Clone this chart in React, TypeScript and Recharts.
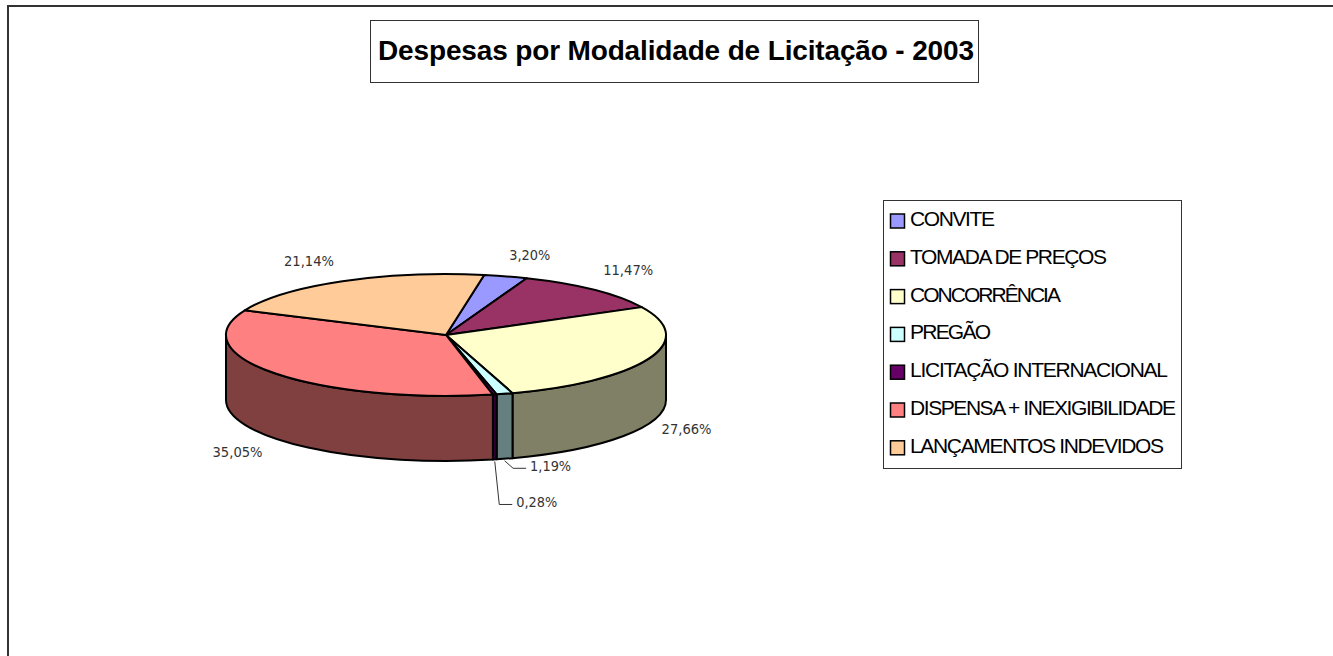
import React from "react";
import { PieChart, Pie, Legend } from "recharts";

const names = [
  "CONVITE",
  "TOMADA DE PREÇOS",
  "CONCORRÊNCIA",
  "PREGÃO",
  "LICITAÇÃO INTERNACIONAL",
  "DISPENSA + INEXIGIBILIDADE",
  "LANÇAMENTOS INDEVIDOS",
];
const values = [3.2, 11.47, 27.66, 1.19, 0.28, 35.05, 21.14];
const valueLabels = ["3,20%", "11,47%", "27,66%", "1,19%", "0,28%", "35,05%", "21,14%"];
const topColors = ["#9999FF", "#993366", "#FFFFCC", "#CCFFFF", "#660066", "#FF8080", "#FFCC99"];
const sideColors = ["#4D4D80", "#4D1A33", "#808066", "#668080", "#330033", "#804040", "#806633"];

// nudges from the rim point of each slice to the centre of its label
const labelOffsets = [
  [24, -21.5],
  [34.5, -19.5],
  [37.5, 71],
  [46, 72.5],
  [42, 108],
  [-38, 78.5],
  [-33.5, -20.5],
];
const legendWidths = [85, 197, 151, 81, 258, 266, 254];

const chartData = names.map((name, i) => ({
  name,
  value: values[i],
  fill: topColors[i],
  side: sideColors[i],
}));

const SQUASH = 61 / 220;
const DEPTH = 65;
const RAD = Math.PI / 180;

function rim(cx: number, cy: number, r: number, deg: number) {
  return {
    x: cx + r * Math.cos(deg * RAD),
    y: cy - SQUASH * r * Math.sin(deg * RAD),
  };
}

function renderSlice(props: any) {
  const { cx, cy, outerRadius: r, startAngle, endAngle, fill, payload } = props;
  const ry = r * SQUASH;
  const a = rim(cx, cy, r, startAngle);
  const b = rim(cx, cy, r, endAngle);
  const large = Math.abs(startAngle - endAngle) > 180 ? 1 : 0;
  const top = `M${cx},${cy} L${a.x},${a.y} A${r},${ry} 0 ${large} 1 ${b.x},${b.y} Z`;

  // only the front half of the cylinder wall is visible
  const from = Math.min(startAngle, 0);
  const to = Math.max(endAngle, -180);
  let wall = null;
  if (from > to) {
    const p = rim(cx, cy, r, from);
    const q = rim(cx, cy, r, to);
    const d = `M${p.x},${p.y} A${r},${ry} 0 0 1 ${q.x},${q.y} L${q.x},${q.y + DEPTH} A${r},${ry} 0 0 0 ${p.x},${p.y + DEPTH} Z`;
    wall = <path d={d} fill={payload.side} stroke="#000" strokeWidth={2} strokeLinejoin="round" />;
  }
  return (
    <g>
      {wall}
      <path d={top} fill={fill} stroke="#000" strokeWidth={2} strokeLinejoin="round" />
    </g>
  );
}

function renderLabel(props: any) {
  const { cx, cy, outerRadius, midAngle, index } = props;
  const anchor = rim(cx, cy, outerRadius, midAngle);
  const [dx, dy] = labelOffsets[index];
  const tx = anchor.x + dx;
  const ty = anchor.y + dy;
  const text = valueLabels[index];
  const w = text.length === 5 ? 41 : 50;
  const left = tx - w / 2;
  return (
    <g>
      {values[index] < 2 && (
        <polyline
          points={`${anchor.x},${anchor.y + DEPTH + 2} ${left - 17},${ty + 2} ${left - 4},${ty + 2}`}
          fill="none"
          stroke="#333"
          strokeWidth={1}
        />
      )}
      <text
        x={tx}
        y={ty + 5}
        textAnchor="middle"
        fontFamily="DejaVu Sans"
        fontSize={14}
        fill="#333"
        textLength={w}
        lengthAdjust="spacingAndGlyphs"
      >
        {text}
      </text>
    </g>
  );
}

function renderLegend(props: any) {
  const { payload } = props;
  return (
    <svg width={299} height={269} style={{ display: "block", overflow: "visible" }}>
      <rect x={0.5} y={0.5} width={298} height={268} fill="#fff" stroke="#333" />
      {payload.map((entry: any, i: number) => {
        const y = 19 + i * 37.8;
        return (
          <g key={entry.value}>
            <rect x={7.5} y={y - 5} width={14} height={14} fill={entry.color} stroke="#000" strokeWidth={1.5} />
            <text
              x={27}
              y={y + 7}
              fontFamily="Liberation Sans"
              fontSize={21}
              fill="#000"
              textLength={legendWidths[i]}
              lengthAdjust="spacing"
            >
              {entry.value}
            </text>
          </g>
        );
      })}
    </svg>
  );
}

export default function App() {
  return (
    <div style={{ position: "absolute", left: 0, top: 0, width: 1333, height: 656, overflow: "hidden", background: "#fff" }}>
      <div
        style={{
          position: "absolute",
          left: 7,
          top: 5,
          width: 1400,
          height: 700,
          borderLeft: "2px solid #333",
          borderTop: "2px solid #333",
        }}
      />
      <div style={{ position: "absolute", left: 0, top: 0 }}>
        <PieChart width={1333} height={656} margin={{ top: 0, right: 0, bottom: 0, left: 0 }}>
          <Legend
            content={renderLegend}
            layout="vertical"
            align="right"
            verticalAlign="top"
            itemSorter={null}
            wrapperStyle={{ position: "absolute", left: 883, top: 200, width: 299, height: 269 }}
          />
          <Pie
            data={chartData}
            dataKey="value"
            nameKey="name"
            cx={446}
            cy={335}
            outerRadius={220}
            startAngle={80}
            endAngle={-280}
            shape={renderSlice}
            label={renderLabel}
            labelLine={false}
            isAnimationActive={false}
          />
        </PieChart>
      </div>
      <svg width={610} height={63} style={{ position: "absolute", left: 370, top: 20 }}>
        <rect x={0.5} y={0.5} width={608} height={62} fill="#fff" stroke="#333" />
        <text
          x={8}
          y={40}
          fontFamily="Liberation Sans"
          fontWeight="bold"
          fontSize={28}
          fill="#000"
          textLength={596}
          lengthAdjust="spacing"
        >
          Despesas por Modalidade de Licitação - 2003
        </text>
      </svg>
    </div>
  );
}
